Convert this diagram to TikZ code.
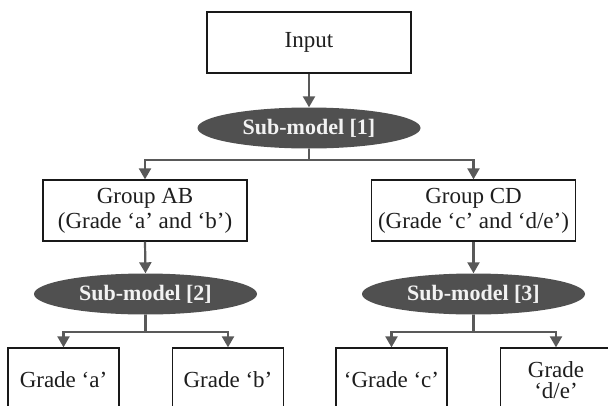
\documentclass[tikz,border=0pt]{standalone}
\usepackage{fontspec}
\setmainfont{Liberation Serif}
\usetikzlibrary{shapes.geometric,arrows.meta}
\definecolor{linegray}{HTML}{595959}
\definecolor{ellfill}{HTML}{505050}
\definecolor{txt}{HTML}{1E1E1E}
\begin{document}
\begin{tikzpicture}[x=1pt,y=-1pt,
  box/.style={draw=black!90, line width=1.3pt, fill=white, text=txt, inner sep=0pt, align=center,
    font=\fontsize{23}{25}\selectfont},
  topbox/.style={box, minimum width=204pt, minimum height=61pt},
  leafbox/.style={box, minimum width=111pt, minimum height=64pt},
  ell/.style={ellipse, fill=ellfill, draw=none, inner sep=0pt, text=white!95!black,
    minimum width=223pt, minimum height=41pt, font=\fontsize{22}{26}\selectfont\bfseries},
  conn/.style={draw=linegray, line width=2.2pt, -{Triangle[length=11pt,width=12pt]}},
  plain/.style={draw=linegray, line width=2.2pt}]
\useasboundingbox (0,0) rectangle (608,405);
\clip (0,0) rectangle (608,405);

\node[topbox] (in) at (309,42.5) {Input};
\node[ell] (s1) at (309,128) {Sub-model [1]};
\node[topbox] (gab) at (145,210.5) {Group AB\\(Grade ‘a’ and ‘b’)};
\node[topbox] (gcd) at (473.5,210.5) {Group CD\\(Grade ‘c’ and ‘d/e’)};
\node[ell] (s2) at (145.5,294) {Sub-model [2]};
\node[ell] (s3) at (473.5,294) {Sub-model [3]};
\node[leafbox] (ga) at (63.5,380) {Grade ‘a’};
\node[leafbox] (gb) at (228,380) {Grade ‘b’};
\node[leafbox] (gc) at (391.5,380) {‘Grade ‘c’};
\node[leafbox, font=\fontsize{23}{21}\selectfont] (gde) at (556,380) {Grade\\‘d/e’};

\coordinate (j1) at (309,160);
\coordinate (j2) at (145.5,332);
\coordinate (j3) at (473.5,332);

\draw[conn] (in.south) -- (s1.north);
\draw[plain] (s1.south) -- (j1);
\draw[conn] (j1) -| (gab.north);
\draw[conn] (j1) -| (gcd.north);
\draw[conn] (gab.south) -- (s2.north);
\draw[conn] (gcd.south) -- (s3.north);
\draw[plain] (s2.south) -- (j2);
\draw[plain] (s3.south) -- (j3);
\draw[conn] (j2) -| (ga.north);
\draw[conn] (j2) -| (gb.north);
\draw[conn] (j3) -| (gc.north);
\draw[conn] (j3) -| (gde.north);
\end{tikzpicture}
\end{document}
